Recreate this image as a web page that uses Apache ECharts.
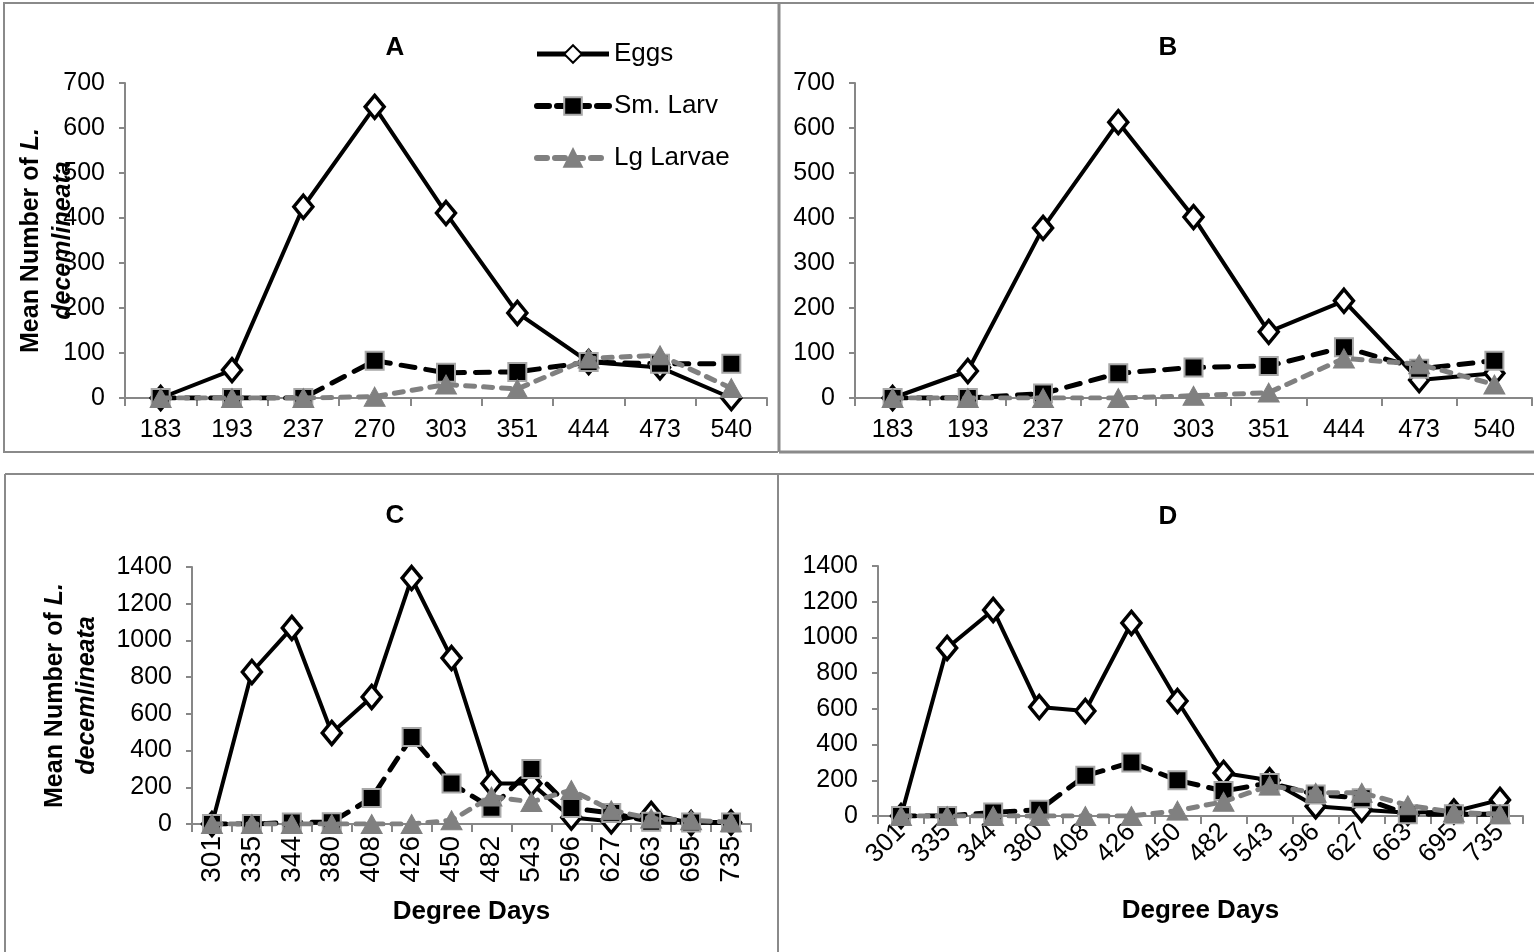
<!DOCTYPE html>
<html><head><meta charset="utf-8">
<script src="https://cdn.jsdelivr.net/npm/echarts@6/dist/echarts.min.js"></script>
<style>html,body{margin:0;padding:0;background:#fff}#c{width:1534px;height:952px}</style>
</head><body><div id="c"></div>
<script>
// ---- data ----
const catsAB = ['183','193','237','270','303','351','444','473','540'];
const catsCD = ['301','335','344','380','408','426','450','482','543','596','627','663','695','735'];
const eggsA = [0,62,425,647,411,189,80,68,0];
const smA   = [0,0,0,83,56,58,80,76,76];
const lgA   = [0,0,0,3,30,20,88,95,22];
const eggsB = [0,60,378,613,402,147,216,40,55];
const smB   = [0,0,10,55,68,71,113,65,83];
const lgB   = [0,0,0,0,5,12,88,75,30];
const eggsC = [0,828,1068,496,692,1340,904,220,220,35,15,55,5,8];
const smC   = [0,0,8,10,142,474,220,88,300,87,60,12,8,8];
const lgC   = [0,0,0,0,0,0,20,150,120,185,75,30,20,10];
const eggsD = [0,941,1154,610,588,1081,644,241,200,55,35,18,25,90];
const smD   = [0,0,20,35,225,300,200,140,185,120,100,10,10,10];
const lgD   = [0,0,0,0,0,0,30,80,170,130,130,60,20,10];
const panelTitles = ['A','B','C','D'];
const seriesNames = ['Eggs','Sm. Larv','Lg Larvae'];
const yTicksAB = {min:0, max:700, interval:100};
const yTicksCD = {min:0, max:1400, interval:200};

const FF = '"Liberation Sans", Arial, sans-serif';
const AX = '#878787';

function eggs(data, i){
  return {name:seriesNames[0], type:'line', xAxisIndex:i, yAxisIndex:i, data:data,
    symbol:'diamond', symbolSize:[19,23], z:2,
    lineStyle:{color:'#000', width:4},
    itemStyle:{color:'#fff', borderColor:'#000', borderWidth:3.5},
    emphasis:{disabled:true}, animation:false};
}
function sm(data, i){
  return {name:seriesNames[1], type:'line', xAxisIndex:i, yAxisIndex:i, data:data,
    symbol:'rect', symbolSize:18, z:3,
    lineStyle:{color:'#000', width:5, type:[14,11], cap:'round'},
    itemStyle:{color:'#000', borderColor:'#a8a8a8', borderWidth:2},
    emphasis:{disabled:true}, animation:false};
}
function lg(data, i){
  return {name:seriesNames[2], type:'line', xAxisIndex:i, yAxisIndex:i, data:data,
    symbol:'triangle', symbolSize:[21,19], z:4,
    lineStyle:{color:'#808080', width:5, type:[9,9], cap:'round'},
    itemStyle:{color:'#808080', borderColor:'#808080', borderWidth:1},
    emphasis:{disabled:true}, animation:false};
}
function xAxis(i, cats, rot, fs, withName, gap){
  const ax = {type:'category', gridIndex:i, data:cats, boundaryGap:true,
    axisLine:{lineStyle:{color:AX, width:2}},
    axisTick:{show:true, alignWithLabel:false, inside:false, length:8, lineStyle:{color:AX, width:2}},
    axisLabel:{color:'#000', fontSize:fs, fontFamily:FF, margin: rot ? 12 : 20, rotate:rot, interval:0},
    splitLine:{show:false}};
  if (withName){
    ax.name = 'Degree Days'; ax.nameLocation='middle'; ax.nameGap = gap; ax.nameMoveOverlap = false;
    ax.nameTextStyle = {color:'#000', fontSize:26, fontWeight:'bold', fontFamily:FF};
  }
  return ax;
}
function yAxis(i, t, gap){
  const ax = {type:'value', gridIndex:i, min:t.min, max:t.max, interval:t.interval,
    axisLine:{show:true, lineStyle:{color:AX, width:2}},
    axisTick:{show:true, length:6, lineStyle:{color:AX, width:2}},
    axisLabel:{color:'#000', fontSize:25, fontFamily:FF, margin:20, formatter:(v)=>String(v)},
    splitLine:{show:false}};
  if (gap){
    ax.name = '{n|Mean Number of }{i|L.}\n{i|decemlineata}';
    ax.nameLocation='middle'; ax.nameGap=gap; ax.nameRotate=90; ax.nameMoveOverlap = false;
    ax.nameTextStyle = {color:'#000', fontSize:25, fontWeight:'bold', fontFamily:FF, lineHeight:32,
      rich:{n:{fontSize:25, fontWeight:'bold', fontFamily:FF, lineHeight:32},
            i:{fontSize:25, fontWeight:'bold', fontStyle:'italic', fontFamily:FF, lineHeight:32}}};
  }
  return ax;
}
function ln(x1,y1,x2,y2,w){
  return {type:'line', shape:{x1:x1,y1:y1,x2:x2,y2:y2}, style:{stroke:'#8a8a8a', lineWidth:w||2}, silent:true};
}
function ttl(txt,x,y){
  return {type:'text', x:x, y:y, style:{text:txt, font:'bold 26px '+FF, fill:'#000', align:'center', verticalAlign:'middle'}, silent:true};
}

const chart = echarts.init(document.getElementById('c'), null, {renderer:'canvas'});
chart.setOption({
  animation:false,
  backgroundColor:'#fff',
  grid:[
    {left:125, top:83, width:642, height:315},
    {left:855, top:83, width:677, height:315},
    {left:192, top:567, width:559, height:257},
    {left:878, top:566, width:645, height:250}
  ],
  legend:{show:true, orient:'vertical', left:529, top:36, itemWidth:72, itemHeight:22, itemGap:26,
    selectedMode:false,
    data:[
      {name:seriesNames[0], lineStyle:{width:5, color:'#000', type:'solid'}},
      {name:seriesNames[1], lineStyle:{width:6, color:'#000', type:[12,8], cap:'round'}},
      {name:seriesNames[2], lineStyle:{width:6, color:'#808080', type:[10,8], cap:'round'}}
    ],
    textStyle:{color:'#000', fontSize:26, fontFamily:FF, lineHeight:22}},
  xAxis:[xAxis(0,catsAB,0,25,false,0), xAxis(1,catsAB,0,25,false,0), xAxis(2,catsCD,90,28,true,75), xAxis(3,catsCD,45,26,true,82)],
  yAxis:[yAxis(0,yTicksAB,46), yAxis(1,yTicksAB,0), yAxis(2,yTicksCD,89), yAxis(3,yTicksCD,0)],
  series:[
    eggs(eggsA,0), sm(smA,0), lg(lgA,0),
    eggs(eggsB,1), sm(smB,1), lg(lgB,1),
    eggs(eggsC,2), sm(smC,2), lg(lgC,2),
    eggs(eggsD,3), sm(smD,3), lg(lgD,3)
  ],
  graphic:[
    ln(3,3,1534,3), ln(4,3,4,452), ln(3,452,778,452), ln(779,3,779,452,3), ln(779,452,1534,452,3),
    ln(5,474,1534,474), ln(5,474,5,952), ln(778,474,778,952,2),
    ttl(panelTitles[0],395,48), ttl(panelTitles[1],1168,48), ttl(panelTitles[2],395,516), ttl(panelTitles[3],1168,517)
  ]
});
</script>
</body></html>
